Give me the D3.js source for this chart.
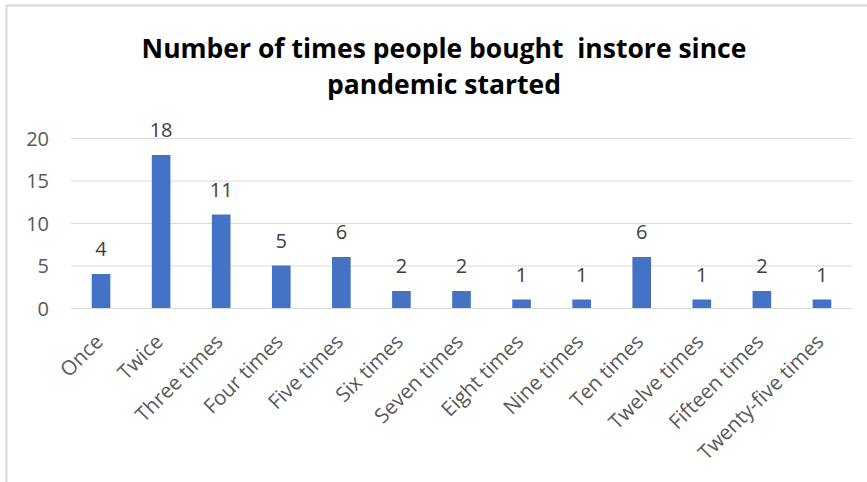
<!DOCTYPE html>
<html>
<head>
<meta charset="utf-8">
<script src="https://cdn.jsdelivr.net/npm/d3@7/dist/d3.min.js"></script>
<style>
  html, body { margin: 0; padding: 0; background: #fff; }
  svg { display: block; }
  .title { white-space: pre; }
</style>
</head>
<body>
<script>
// Survey answers: how often people shopped in store since the pandemic began
const categories = ["Once", "Twice", "Three times", "Four times", "Five times", "Six times",
  "Seven times", "Eight times", "Nine times", "Ten times", "Twelve times", "Fifteen times",
  "Twenty-five times"];
const counts = [4, 18, 11, 5, 6, 2, 2, 1, 1, 6, 1, 2, 1];
const yTicks = [0, 5, 10, 15, 20];
const titleLines = ["Number of times people bought  instore since", "pandemic started"];

const W = 867, H = 482;
const plot = { left: 71, right: 852, top: 138, bottom: 308 };
const FONT = "'Open Sans', 'DejaVu Sans', sans-serif";

const svg = d3.select("body").append("svg")
  .attr("width", W).attr("height", H);

svg.append("rect").attr("width", W).attr("height", H).attr("fill", "#fff");

// chart frame (top and left edges visible within the view)
svg.append("path")
  .attr("d", `M6.5,${H} V5.5 H${W}`)
  .attr("fill", "none").attr("stroke", "#d9d9d9").attr("stroke-width", 2);

// title
svg.append("g").selectAll("text").data(titleLines).join("text")
  .attr("class", "title")
  .attr("x", 444)
  .attr("y", (d, i) => 58 + i * 36)
  .attr("text-anchor", "middle")
  .attr("font-family", FONT).attr("font-weight", 700)
  .attr("font-size", 26.5).attr("fill", "#000")
  .text(d => d);

const x = d3.scaleBand().domain(categories)
  .range([plot.left, plot.right])
  .paddingInner(0.69).paddingOuter(0.345);

const y = d3.scaleLinear().domain([0, 20]).range([plot.bottom, plot.top]);

// gridlines and y labels
const yAxis = d3.axisLeft(y).tickValues(yTicks)
  .tickSize(-(plot.right - plot.left)).tickPadding(22);
const gy = svg.append("g").attr("transform", `translate(${plot.left},0)`).call(yAxis);
gy.select(".domain").remove();
gy.selectAll(".tick line").attr("stroke", "#d9d9d9").attr("stroke-width", 1);
gy.selectAll(".tick text")
  .attr("font-family", FONT).attr("font-size", 20).attr("fill", "#595959")
  .attr("dy", "0.36em");

// bars
svg.append("g").selectAll("rect").data(counts).join("rect")
  .attr("x", (d, i) => x(categories[i]))
  .attr("y", d => y(d))
  .attr("width", x.bandwidth())
  .attr("height", d => y(0) - y(d))
  .attr("fill", "#4472c4");

// value labels
svg.append("g").selectAll("text").data(counts).join("text")
  .attr("x", (d, i) => x(categories[i]) + x.bandwidth() / 2)
  .attr("y", d => y(d) - 18)
  .attr("text-anchor", "middle")
  .attr("font-family", FONT).attr("font-size", 20).attr("fill", "#404040")
  .text(d => d);

// category labels, rotated
const xAxis = d3.axisBottom(x).tickSize(0).tickPadding(0);
const gx = svg.append("g").attr("transform", `translate(0,${plot.bottom})`).call(xAxis);
gx.select(".domain").remove();
gx.selectAll(".tick text")
  .attr("font-family", FONT).attr("font-size", 20.5).attr("fill", "#595959")
  .attr("text-anchor", "end")
  .attr("dy", null).attr("y", 0)
  .attr("transform", "translate(3,35) rotate(-45)");
</script>
</body>
</html>
